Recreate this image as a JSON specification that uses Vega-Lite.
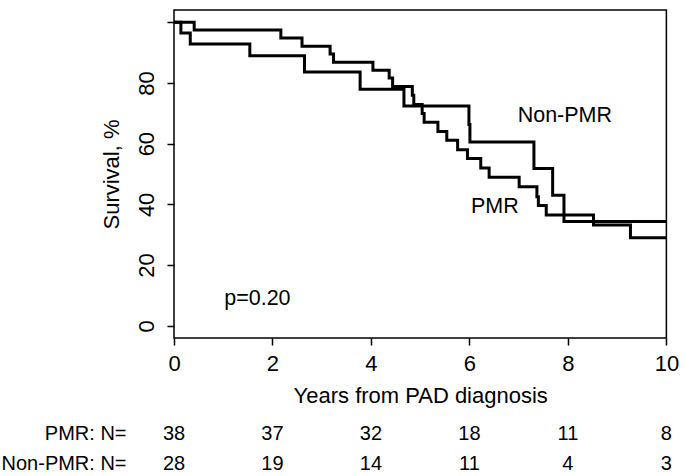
{
  "$schema": "https://vega.github.io/schema/vega-lite/v6.json",
  "padding": {"left": 0, "top": 9, "right": 19, "bottom": 0},
  "config": {
    "font": "Liberation Sans",
    "view": {"stroke": null},
    "axis": {"labelColor": "#000", "titleColor": "#000", "tickColor": "#000", "domainColor": "#000", "labelFont": "Liberation Sans", "titleFont": "Liberation Sans", "titleFontWeight": "normal", "grid": false},
    "text": {"font": "Liberation Sans", "color": "#000"}
  },
  "datasets": {
    "km": [
      {"group": "PMR", "t": 0, "s": 100},
      {"group": "PMR", "t": 0.41, "s": 97.4},
      {"group": "PMR", "t": 2.17, "s": 94.8},
      {"group": "PMR", "t": 2.6, "s": 92.1},
      {"group": "PMR", "t": 3.17, "s": 89.5},
      {"group": "PMR", "t": 3.24, "s": 86.8},
      {"group": "PMR", "t": 4.04, "s": 84.2},
      {"group": "PMR", "t": 4.37, "s": 81.6},
      {"group": "PMR", "t": 4.44, "s": 78.8},
      {"group": "PMR", "t": 4.84, "s": 75.9},
      {"group": "PMR", "t": 4.87, "s": 72.9},
      {"group": "PMR", "t": 5.04, "s": 69.9},
      {"group": "PMR", "t": 5.08, "s": 67.0},
      {"group": "PMR", "t": 5.36, "s": 64.0},
      {"group": "PMR", "t": 5.54, "s": 61.1},
      {"group": "PMR", "t": 5.76, "s": 58.0},
      {"group": "PMR", "t": 5.96, "s": 55.1},
      {"group": "PMR", "t": 6.23, "s": 52.0},
      {"group": "PMR", "t": 6.4, "s": 48.9},
      {"group": "PMR", "t": 7.01, "s": 45.8},
      {"group": "PMR", "t": 7.37, "s": 42.5},
      {"group": "PMR", "t": 7.4, "s": 39.6},
      {"group": "PMR", "t": 7.56, "s": 36.5},
      {"group": "PMR", "t": 8.52, "s": 33.2},
      {"group": "PMR", "t": 9.27, "s": 29.0},
      {"group": "PMR", "t": 10, "s": 29.0},
      {"group": "Non-PMR", "t": 0, "s": 100},
      {"group": "Non-PMR", "t": 0.14, "s": 96.4},
      {"group": "Non-PMR", "t": 0.33, "s": 92.8},
      {"group": "Non-PMR", "t": 1.54, "s": 88.9},
      {"group": "Non-PMR", "t": 2.65, "s": 83.6},
      {"group": "Non-PMR", "t": 3.78, "s": 77.9},
      {"group": "Non-PMR", "t": 4.67, "s": 72.4},
      {"group": "Non-PMR", "t": 5.99, "s": 66.3},
      {"group": "Non-PMR", "t": 6.01, "s": 60.5},
      {"group": "Non-PMR", "t": 7.31, "s": 51.8},
      {"group": "Non-PMR", "t": 7.69, "s": 43.0},
      {"group": "Non-PMR", "t": 7.92, "s": 34.4},
      {"group": "Non-PMR", "t": 10, "s": 34.4}
    ],
    "notes": [
      {"label": "Non-PMR", "t": 6.98, "s": 67.2},
      {"label": "PMR", "t": 6.03, "s": 37.0},
      {"label": "p=0.20", "t": 1.02, "s": 7.0}
    ],
    "risk": [
      {"group": "PMR: N=", "t": 0, "n": 38},
      {"group": "PMR: N=", "t": 2, "n": 37},
      {"group": "PMR: N=", "t": 4, "n": 32},
      {"group": "PMR: N=", "t": 6, "n": 18},
      {"group": "PMR: N=", "t": 8, "n": 11},
      {"group": "PMR: N=", "t": 10, "n": 8},
      {"group": "Non-PMR: N=", "t": 0, "n": 28},
      {"group": "Non-PMR: N=", "t": 2, "n": 19},
      {"group": "Non-PMR: N=", "t": 4, "n": 14},
      {"group": "Non-PMR: N=", "t": 6, "n": 11},
      {"group": "Non-PMR: N=", "t": 8, "n": 4},
      {"group": "Non-PMR: N=", "t": 10, "n": 3}
    ]
  },
  "spacing": 16,
  "vconcat": [
    {
      "width": 492.4,
      "height": 328,
      "view": {"stroke": "#000", "strokeWidth": 1.5},
      "layer": [
        {
          "data": {"name": "km"},
          "mark": {"type": "line", "interpolate": "step-after", "color": "#000", "strokeWidth": 3},
          "encoding": {
            "x": {"field": "t", "type": "quantitative", "scale": {"domain": [0, 10], "nice": false, "zero": false},
              "axis": {"values": [0, 2, 4, 6, 8, 10], "tickSize": 7, "tickWidth": 1.5, "labelFontSize": 22, "labelPadding": 9, "labelFlush": false, "labelOverlap": false, "title": "Years from PAD diagnosis", "titleFontSize": 22, "titlePadding": 11, "domain": false}},
            "y": {"field": "s", "type": "quantitative", "scale": {"domain": [-4, 104], "nice": false, "zero": false},
              "axis": {"values": [0, 20, 40, 60, 80, 100], "labelExpr": "datum.value == 100 ? '' : datum.label", "labelAngle": -90, "tickSize": 7, "tickWidth": 1.5, "labelFontSize": 22, "labelPadding": 8, "labelOverlap": false, "title": "Survival, %", "titleFontSize": 22, "titlePadding": 12, "domain": false}},
            "detail": {"field": "group"}
          }
        },
        {
          "data": {"name": "notes"},
          "mark": {"type": "text", "align": "left", "baseline": "alphabetic", "fontSize": 21.5},
          "encoding": {
            "x": {"field": "t", "type": "quantitative"},
            "y": {"field": "s", "type": "quantitative"},
            "text": {"field": "label"}
          }
        }
      ]
    },
    {
      "width": 492.4,
      "height": 30,
      "data": {"name": "risk"},
      "mark": {"type": "text", "fontSize": 20, "baseline": "middle"},
      "encoding": {
        "x": {"field": "t", "type": "quantitative", "scale": {"domain": [0, 10], "nice": false, "zero": false}, "axis": null},
        "y": {"field": "group", "type": "nominal", "sort": ["PMR: N=", "Non-PMR: N="], "scale": {"type": "point", "padding": 0},
          "axis": {"title": null, "domain": false, "ticks": false, "labelFontSize": 20, "labelPadding": 48}},
        "text": {"field": "n"}
      }
    }
  ]
}
